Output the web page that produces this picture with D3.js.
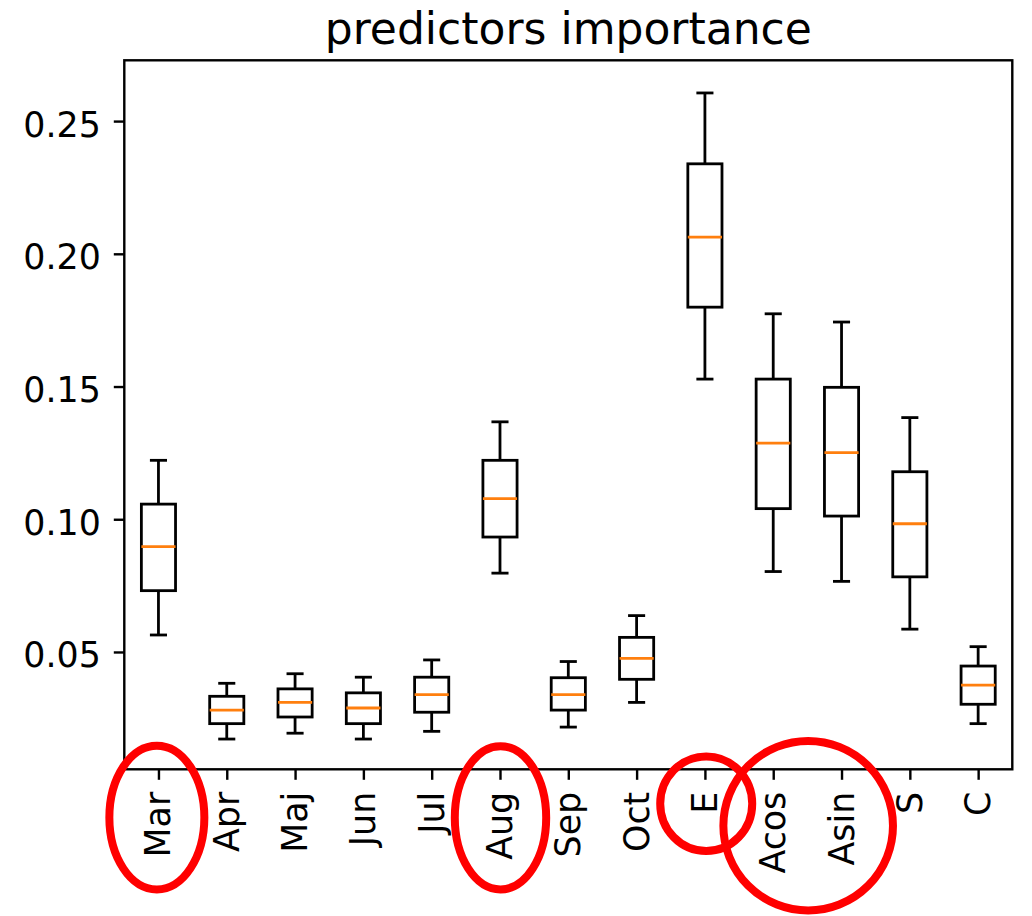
<!DOCTYPE html>
<html>
<head>
	<meta charset="utf-8">
	<title>predictors importance</title>
	<script src="https://d3js.org/d3.v7.min.js"></script>
	<style>
		body { margin: 0; background: #fff; }
		svg text { font-family: "DejaVu Sans", sans-serif; fill: #000; }
	</style>
</head>
<body>
	<svg id="chart" width="1032" height="916"></svg>

	<script type="text/javascript">
// categories (predictors)
var categories = ["Mar", "Apr", "Maj", "Jun", "Jul", "Aug", "Sep", "Oct", "E", "Acos", "Asin", "S", "C"];
// box statistics per predictor
var whiskerLow  = [0.0564, 0.0172, 0.0194, 0.0172, 0.0201, 0.0797, 0.0217, 0.0310, 0.1528, 0.0803, 0.0766, 0.0586, 0.0230];
var q1          = [0.0731, 0.0230, 0.0255, 0.0230, 0.0273, 0.0933, 0.0281, 0.0397, 0.1799, 0.1040, 0.1012, 0.0783, 0.0303];
var medians     = [0.0897, 0.0281, 0.0310, 0.0289, 0.0339, 0.1078, 0.0339, 0.0476, 0.2063, 0.1287, 0.1251, 0.0983, 0.0375];
var q3          = [0.1057, 0.0333, 0.0361, 0.0346, 0.0405, 0.1222, 0.0403, 0.0555, 0.2339, 0.1528, 0.1497, 0.1179, 0.0447];
var whiskerHigh = [0.1222, 0.0382, 0.0418, 0.0405, 0.0470, 0.1367, 0.0464, 0.0637, 0.2606, 0.1774, 0.1743, 0.1383, 0.0520];
var yTicks = [0.05, 0.10, 0.15, 0.20, 0.25];

var svg = d3.select('#chart');
// plot area (note: "top" is reserved on window, so use a prefix)
var plotL = 124.3, plotR = 1012.3, plotT = 60.3, plotB = 769.3;

var x = d3.scalePoint()
        .domain(categories)
        .range([plotL, plotR])
        .padding(0.5);
var y = d3.scaleLinear()
        .domain([0.0058, 0.2729])
        .range([plotB, plotT]);

var step = x.step();
var boxW = step * 0.5, capW = step * 0.25;

// title
svg.append('text')
   .attr('x', (plotL + plotR) / 2)
   .attr('y', 44)
   .attr('text-anchor', 'middle')
   .style('font-size', '44px')
   .text('predictors importance');

// boxes
var rows = categories.map(function(c, i) {
    return {name: c, lo: whiskerLow[i], q1: q1[i], med: medians[i], q3: q3[i], hi: whiskerHigh[i]};
});
var g = svg.append('g').selectAll('g').data(rows).enter().append('g')
        .attr('fill', 'none')
        .attr('stroke', '#000')
        .attr('stroke-width', 2.8);

g.append('line')
 .attr('x1', function(d){ return x(d.name); }).attr('x2', function(d){ return x(d.name); })
 .attr('y1', function(d){ return y(d.lo); }).attr('y2', function(d){ return y(d.q1); });
g.append('line')
 .attr('x1', function(d){ return x(d.name); }).attr('x2', function(d){ return x(d.name); })
 .attr('y1', function(d){ return y(d.q3); }).attr('y2', function(d){ return y(d.hi); });
g.append('line')
 .attr('x1', function(d){ return x(d.name) - capW / 2; }).attr('x2', function(d){ return x(d.name) + capW / 2; })
 .attr('y1', function(d){ return y(d.lo); }).attr('y2', function(d){ return y(d.lo); });
g.append('line')
 .attr('x1', function(d){ return x(d.name) - capW / 2; }).attr('x2', function(d){ return x(d.name) + capW / 2; })
 .attr('y1', function(d){ return y(d.hi); }).attr('y2', function(d){ return y(d.hi); });
g.append('rect')
 .attr('x', function(d){ return x(d.name) - boxW / 2; })
 .attr('width', boxW)
 .attr('y', function(d){ return y(d.q3); })
 .attr('height', function(d){ return y(d.q1) - y(d.q3); });
g.append('line')
 .attr('stroke', '#ff7f0e')
 .attr('x1', function(d){ return x(d.name) - boxW / 2; }).attr('x2', function(d){ return x(d.name) + boxW / 2; })
 .attr('y1', function(d){ return y(d.med); }).attr('y2', function(d){ return y(d.med); });

// axes frame
svg.append('rect')
   .attr('x', plotL).attr('y', plotT)
   .attr('width', plotR - plotL).attr('height', plotB - plotT)
   .attr('fill', 'none').attr('stroke', '#000').attr('stroke-width', 2.4);

var yAxis = svg.append('g')
   .attr('transform', 'translate(' + plotL + ',0)')
   .call(d3.axisLeft(y).tickValues(yTicks).tickFormat(d3.format('.2f')).tickSize(10.5).tickPadding(13));
yAxis.select('.domain').remove();
yAxis.selectAll('.tick line').attr('stroke', '#000').attr('stroke-width', 2.4);
yAxis.selectAll('.tick text')
     .attr('dy', '0.43em')
     .attr('fill', '#000')
     .style('font-size', '34.8px')
     .style('font-family', '"DejaVu Sans", sans-serif');

var xAxis = svg.append('g')
   .attr('transform', 'translate(0,' + plotB + ')')
   .call(d3.axisBottom(x).tickSize(10.5));
xAxis.select('.domain').remove();
xAxis.selectAll('.tick line').attr('stroke', '#000').attr('stroke-width', 2.4);
xAxis.selectAll('.tick text')
     .attr('transform', 'translate(0,22.5) rotate(-90)')
     .attr('x', 0).attr('y', 0)
     .attr('dy', '0.33em')
     .attr('text-anchor', 'end')
     .attr('fill', '#000')
     .style('font-size', '34.8px')
     .style('font-family', '"DejaVu Sans", sans-serif');

// red circles round the highlighted labels
var marks = [
    {cx: x('Mar') - 1.6, cy: plotB + 48.3, rx: 47.5, ry: 71.8},
    {cx: x('Aug') + 0.5, cy: plotB + 48.5, rx: 45.7, ry: 71.6},
    {cx: x('E') + 1.3, cy: plotB + 34.4, rx: 46, ry: 47.3},
    {cx: (x('Acos') + x('Asin')) / 2 + 0.8, cy: plotB + 56.4, rx: 84.8, ry: 84.8}
];
svg.append('g').selectAll('ellipse').data(marks).enter().append('ellipse')
   .attr('cx', function(d){ return d.cx; })
   .attr('cy', function(d){ return d.cy; })
   .attr('rx', function(d){ return d.rx; })
   .attr('ry', function(d){ return d.ry; })
   .attr('fill', 'none')
   .attr('stroke', '#ff0000')
   .attr('stroke-width', 8);
	</script>
</body>
</html>
